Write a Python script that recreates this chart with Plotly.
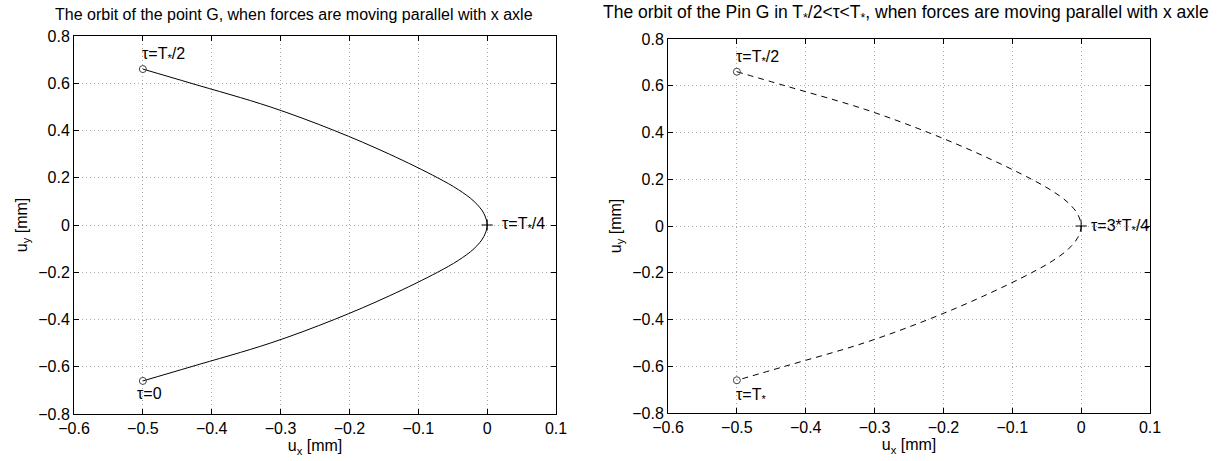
import plotly.graph_objects as go

# Data
uy_vals = [0.66, 0.6, 0.5, 0.4, 0.3, 0.2, 0.15, 0.1, 0.05, 0.0,
           -0.05, -0.1, -0.15, -0.2, -0.3, -0.4, -0.5, -0.6, -0.66]
ux_vals = [-0.5, -0.43, -0.315, -0.222, -0.142, -0.072, -0.042, -0.019, -0.005, 0.0,
           -0.005, -0.019, -0.042, -0.072, -0.142, -0.222, -0.315, -0.43, -0.5]
end_x = [-0.5, -0.5]
end_y = [0.66, -0.66]
vertex_x = [0.0]
vertex_y = [0.0]

x_ticks = [-0.6, -0.5, -0.4, -0.3, -0.2, -0.1, 0, 0.1]
y_ticks = [-0.8, -0.6, -0.4, -0.2, 0, 0.2, 0.4, 0.6, 0.8]

title_left = "The orbit of the point G, when forces are moving parallel with x axle"
title_right = "The orbit of the Pin G in T<sub>*</sub>/2&lt;τ&lt;T<sub>*</sub>, when forces are moving parallel with x axle"

FONT = "Liberation Sans, Arial, sans-serif"
W, H = 1217, 461
FS = 16

fig = go.Figure()

# Left plot (solid)
fig.add_trace(go.Scatter(x=ux_vals, y=uy_vals, mode="lines",
                         line=dict(color="black", width=1, shape="spline", smoothing=1.0),
                         xaxis="x", yaxis="y", showlegend=False))
fig.add_trace(go.Scatter(x=end_x, y=end_y, mode="markers",
                         marker=dict(symbol="circle-open", size=7, color="#444", line=dict(width=1)),
                         xaxis="x", yaxis="y", showlegend=False))
fig.add_trace(go.Scatter(x=vertex_x, y=vertex_y, mode="markers",
                         marker=dict(symbol="cross-thin-open", size=8, color="black", line=dict(width=1, color="black")),
                         xaxis="x", yaxis="y", showlegend=False))

# Right plot (dashed)
fig.add_trace(go.Scatter(x=ux_vals, y=uy_vals, mode="lines",
                         line=dict(color="black", width=1, dash="6px,5px", shape="spline", smoothing=1.0),
                         xaxis="x2", yaxis="y2", showlegend=False))
fig.add_trace(go.Scatter(x=end_x, y=end_y, mode="markers",
                         marker=dict(symbol="circle-open", size=7, color="#444", line=dict(width=1)),
                         xaxis="x2", yaxis="y2", showlegend=False))
fig.add_trace(go.Scatter(x=vertex_x, y=vertex_y, mode="markers",
                         marker=dict(symbol="cross-thin-open", size=8, color="black", line=dict(width=1, color="black")),
                         xaxis="x2", yaxis="y2", showlegend=False))

def xaxis(domain, anchor):
    return dict(domain=domain, anchor=anchor, range=[-0.6, 0.1], tickvals=x_ticks, automargin=False,
                showline=True, linecolor="black", linewidth=1, mirror="ticks",
                ticks="inside", ticklen=5, tickcolor="black", showgrid=True, gridcolor="#aaa",
                griddash="1px,3px", gridwidth=1, zeroline=False,
                tickfont=dict(family=FONT, size=FS, color="black"),
                title=dict(text="u<sub>x</sub> [mm]", font=dict(family=FONT, size=FS, color="black"), standoff=0))

def yaxis(domain, anchor):
    return dict(domain=domain, anchor=anchor, range=[-0.8, 0.8], tickvals=y_ticks, automargin=False,
                showline=True, linecolor="black", linewidth=1, mirror="ticks",
                ticks="inside", ticklen=5, tickcolor="black", showgrid=True, gridcolor="#aaa",
                griddash="1px,3px", gridwidth=1, zeroline=False,
                tickfont=dict(family=FONT, size=FS, color="black"),
                title=dict(text="u<sub>y</sub> [mm]", font=dict(family=FONT, size=FS, color="black"), standoff=6))

fig.update_layout(
    width=W, height=H, margin=dict(l=0, r=0, t=0, b=0),
    paper_bgcolor="white", plot_bgcolor="white",
    font=dict(family=FONT, size=FS, color="black"),
    xaxis=xaxis([74 / W, 556 / W], "y"),
    yaxis=yaxis([(H - 414) / H, (H - 36) / H], "x"),
    xaxis2=xaxis([668 / W, 1150 / W], "y2"),
    yaxis2=yaxis([(H - 413) / H, (H - 39) / H], "x2"),
)

ann_font = dict(family=FONT, size=FS, color="black")
annotations = [
    dict(x=-0.47, y=0.72, xref="x", yref="y", text="τ=T<sub>*</sub>/2", showarrow=False, font=ann_font),
    dict(x=-0.49, y=-0.715, xref="x", yref="y", text="τ=0", showarrow=False, font=ann_font),
    dict(x=0.018, y=0.0, xref="x", yref="y", text="τ=T<sub>*</sub>/4", showarrow=False, xanchor="left", font=ann_font),
    dict(x=-0.47, y=0.72, xref="x2", yref="y2", text="τ=T<sub>*</sub>/2", showarrow=False, font=ann_font),
    dict(x=-0.48, y=-0.725, xref="x2", yref="y2", text="τ=T<sub>*</sub>", showarrow=False, font=ann_font),
    dict(x=0.012, y=0.0, xref="x2", yref="y2", text="τ=3*T<sub>*</sub>/4", showarrow=False, xanchor="left", font=ann_font),
    dict(x=294 / W, y=(H - 15) / H, xref="paper", yref="paper", text=title_left, showarrow=False,
         font=dict(family=FONT, size=16, color="black"), xanchor="center", yanchor="middle"),
    dict(x=906 / W, y=(H - 13) / H, xref="paper", yref="paper", text=title_right, showarrow=False,
         font=dict(family=FONT, size=17.5, color="black"), xanchor="center", yanchor="middle"),
]
fig.update_layout(annotations=annotations)

fig.write_html("out.html")
